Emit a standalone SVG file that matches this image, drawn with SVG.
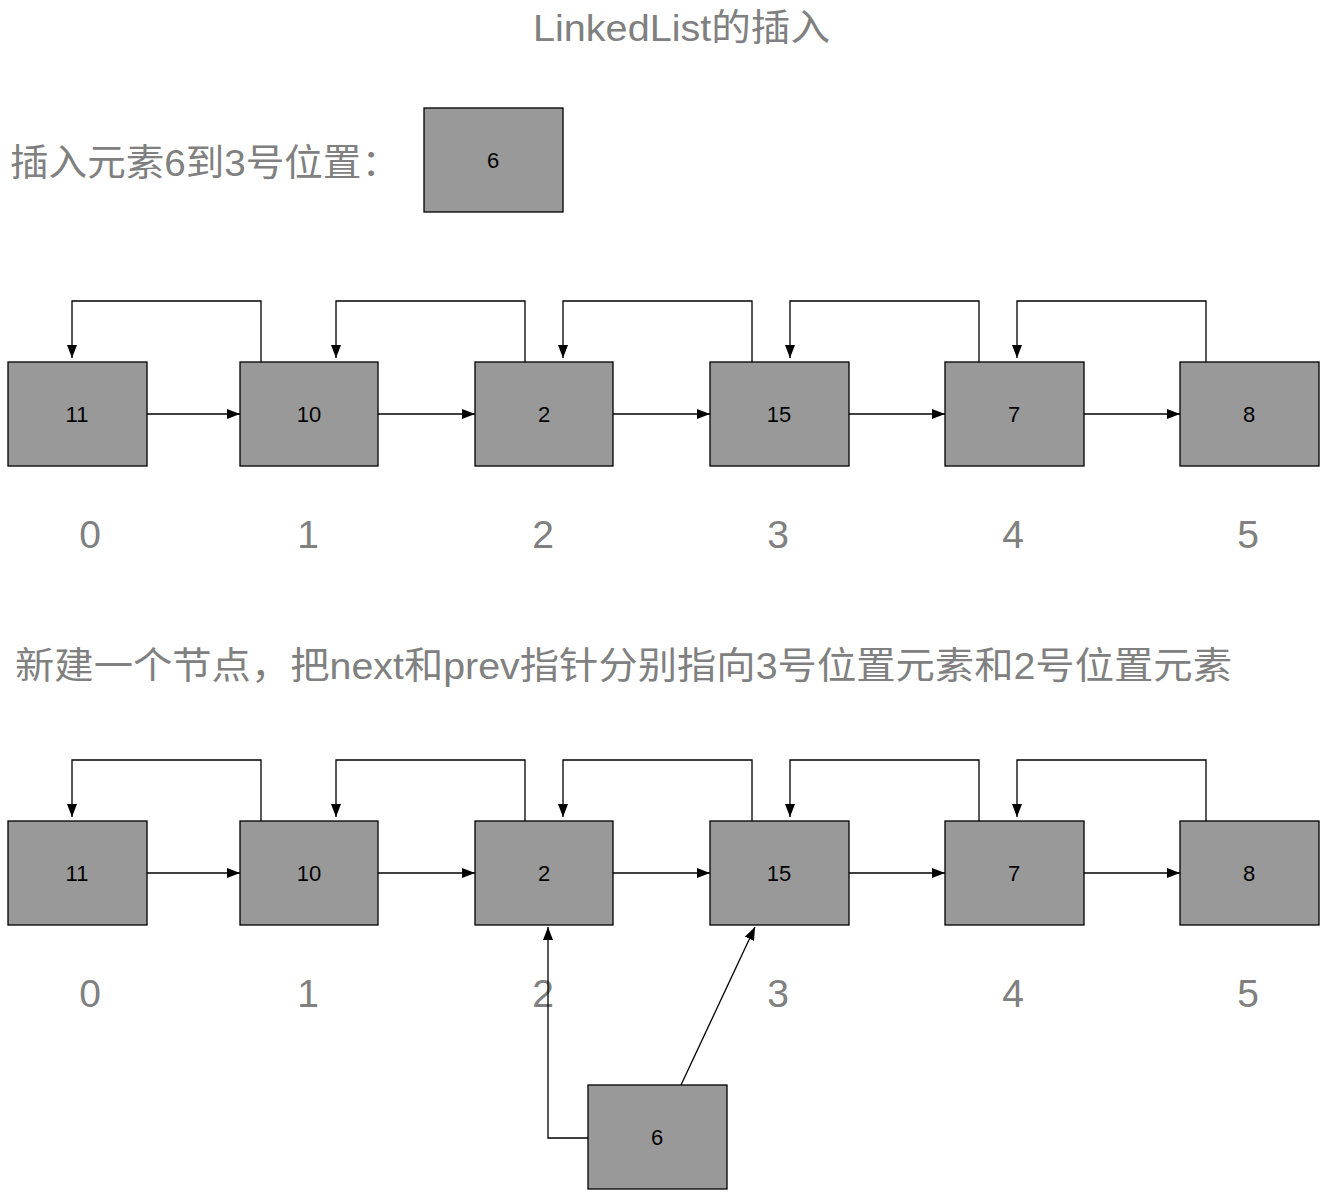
<svg xmlns="http://www.w3.org/2000/svg" width="1327" height="1194" viewBox="0 0 1327 1194">
<style>
.box{fill:#999999;stroke:#000;stroke-width:1.3}
.lbl{font-family:"Liberation Sans",Arial,sans-serif;font-size:22px;fill:#000;text-anchor:middle}
.idx{font-family:"Liberation Sans",Arial,sans-serif;font-size:39px;fill:#808080;text-anchor:middle}
.cap{font-family:"Liberation Sans","Noto Sans CJK SC",sans-serif;font-size:37px;fill:#808080}
.ln{fill:none;stroke:#000;stroke-width:1.3}
</style>
<defs>
<marker id="ah" markerUnits="userSpaceOnUse" markerWidth="14" markerHeight="11" refX="13" refY="5" orient="auto">
<path d="M0,0 L13,5 L0,10 z" fill="#000"/>
</marker>
</defs>
<rect width="1327" height="1194" fill="#fff"/>
<g id="texts">
<text class="cap" x="533" y="41" textLength="297" lengthAdjust="spacingAndGlyphs">LinkedList的插入</text>
<text class="cap" x="10" y="176" textLength="390" lengthAdjust="spacingAndGlyphs">插入元素6到3号位置：</text>
<text class="cap" x="15" y="679" textLength="1217" lengthAdjust="spacingAndGlyphs">新建一个节点，把next和prev指针分别指向3号位置元素和2号位置元素</text>
</g>
<g id="idx1">
<text class="idx" x="90" y="548">0</text>
<text class="idx" x="308" y="548">1</text>
<text class="idx" x="543" y="548">2</text>
<text class="idx" x="778" y="548">3</text>
<text class="idx" x="1013" y="548">4</text>
<text class="idx" x="1248" y="548">5</text>
</g>
<g id="idx2">
<text class="idx" x="90" y="1007">0</text>
<text class="idx" x="308" y="1007">1</text>
<text class="idx" x="543" y="1007">2</text>
<text class="idx" x="778" y="1007">3</text>
<text class="idx" x="1013" y="1007">4</text>
<text class="idx" x="1248" y="1007">5</text>
</g>
<g id="connectors">
<path class="ln" d="M261,362 V301 H72 V358" marker-end="url(#ah)"/>
<path class="ln" d="M525,362 V301 H336 V358" marker-end="url(#ah)"/>
<path class="ln" d="M752,362 V301 H563 V358" marker-end="url(#ah)"/>
<path class="ln" d="M979,362 V301 H790 V358" marker-end="url(#ah)"/>
<path class="ln" d="M1206,362 V301 H1017 V358" marker-end="url(#ah)"/>
<path class="ln" d="M147,414 H240" marker-end="url(#ah)"/>
<path class="ln" d="M378,414 H475" marker-end="url(#ah)"/>
<path class="ln" d="M613,414 H710" marker-end="url(#ah)"/>
<path class="ln" d="M849,414 H945" marker-end="url(#ah)"/>
<path class="ln" d="M1084,414 H1180" marker-end="url(#ah)"/>
<path class="ln" d="M261,821 V760 H72 V817" marker-end="url(#ah)"/>
<path class="ln" d="M525,821 V760 H336 V817" marker-end="url(#ah)"/>
<path class="ln" d="M752,821 V760 H563 V817" marker-end="url(#ah)"/>
<path class="ln" d="M979,821 V760 H790 V817" marker-end="url(#ah)"/>
<path class="ln" d="M1206,821 V760 H1017 V817" marker-end="url(#ah)"/>
<path class="ln" d="M147,873 H240" marker-end="url(#ah)"/>
<path class="ln" d="M378,873 H475" marker-end="url(#ah)"/>
<path class="ln" d="M613,873 H710" marker-end="url(#ah)"/>
<path class="ln" d="M849,873 H945" marker-end="url(#ah)"/>
<path class="ln" d="M1084,873 H1180" marker-end="url(#ah)"/>
<path class="ln" d="M588,1138 H548 V927" marker-end="url(#ah)"/>
<path class="ln" d="M681,1085 L755,927" marker-end="url(#ah)"/>
</g>
<g id="new6"><rect class="box" x="424" y="108" width="139" height="104"/><text class="lbl" x="493" y="168">6</text></g>
<g id="r1n0"><rect class="box" x="8" y="362" width="139" height="104"/><text class="lbl" x="77" y="422">11</text></g>
<g id="r1n1"><rect class="box" x="240" y="362" width="138" height="104"/><text class="lbl" x="309" y="422">10</text></g>
<g id="r1n2"><rect class="box" x="475" y="362" width="138" height="104"/><text class="lbl" x="544" y="422">2</text></g>
<g id="r1n3"><rect class="box" x="710" y="362" width="139" height="104"/><text class="lbl" x="779" y="422">15</text></g>
<g id="r1n4"><rect class="box" x="945" y="362" width="139" height="104"/><text class="lbl" x="1014" y="422">7</text></g>
<g id="r1n5"><rect class="box" x="1180" y="362" width="139" height="104"/><text class="lbl" x="1249" y="422">8</text></g>
<g id="r2n0"><rect class="box" x="8" y="821" width="139" height="104"/><text class="lbl" x="77" y="881">11</text></g>
<g id="r2n1"><rect class="box" x="240" y="821" width="138" height="104"/><text class="lbl" x="309" y="881">10</text></g>
<g id="r2n2"><rect class="box" x="475" y="821" width="138" height="104"/><text class="lbl" x="544" y="881">2</text></g>
<g id="r2n3"><rect class="box" x="710" y="821" width="139" height="104"/><text class="lbl" x="779" y="881">15</text></g>
<g id="r2n4"><rect class="box" x="945" y="821" width="139" height="104"/><text class="lbl" x="1014" y="881">7</text></g>
<g id="r2n5"><rect class="box" x="1180" y="821" width="139" height="104"/><text class="lbl" x="1249" y="881">8</text></g>
<g id="r2new6"><rect class="box" x="588" y="1085" width="139" height="104"/><text class="lbl" x="657" y="1145">6</text></g>
</svg>
